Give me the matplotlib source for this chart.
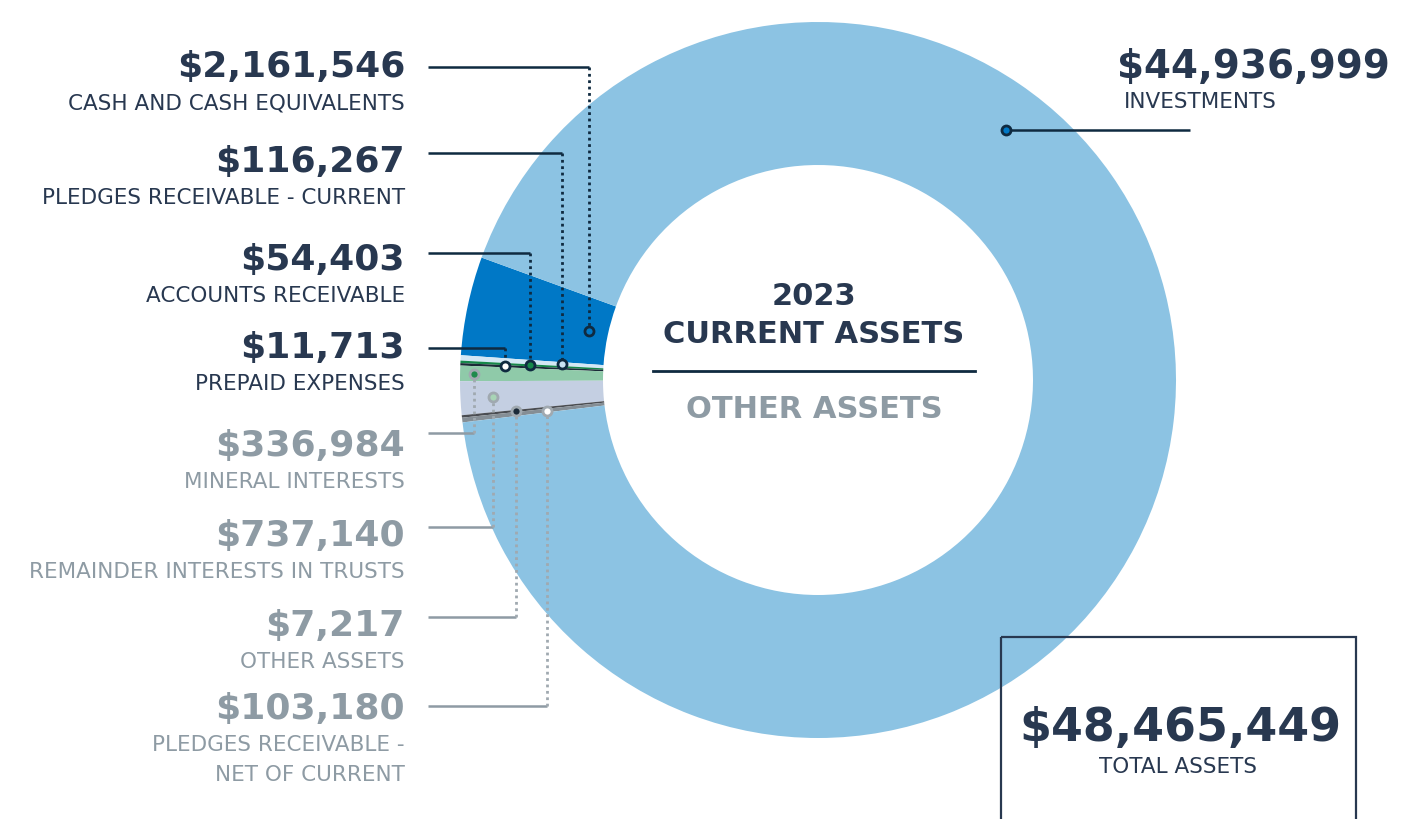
import numpy as np
import matplotlib.pyplot as plt
from matplotlib.patches import Rectangle

# slices in drawing order, counter-clockwise from upper left
names = ['CASH AND CASH EQUIVALENTS', 'PLEDGES RECEIVABLE - CURRENT',
         'ACCOUNTS RECEIVABLE', 'PREPAID EXPENSES', 'MINERAL INTERESTS',
         'REMAINDER INTERESTS IN TRUSTS', 'OTHER ASSETS',
         'PLEDGES RECEIVABLE -\nNET OF CURRENT', 'INVESTMENTS']
values = np.array([2161546, 116267, 54403, 11713, 336984, 737140, 7217,
                   103180, 44936999])
value_labels = ['$2,161,546', '$116,267', '$54,403', '$11,713', '$336,984',
                '$737,140', '$7,217', '$103,180', '$44,936,999']
is_current = [True, True, True, True, False, False, False, False, True]
total_label = '$48,465,449'

colors = ['#0078c6', '#d4e8f5', '#16884a', '#1b2a38', '#8fcaa9', '#c4cfe2',
          '#4a4d52', '#858e95', '#8cc3e3']
dot_faces = ['#0078c6', '#c9e2f3', '#16884a', '#ffffff', '#1f8a4c', '#a8d4b6',
             '#1b2a38', '#ffffff', '#0078c6']

NAVY = '#283850'
LINE_NAVY = '#0f2a40'
GREY = '#8e9ba4'
DOT_GREY = '#a0a9b0'
BOLD = dict(family='DejaVu Sans', fontweight='bold')
THIN = dict(family='DejaVu Sans', fontsize=15.5)

fig = plt.figure(figsize=(14.07, 8.19), dpi=100)
ax = fig.add_axes([0, 0, 1, 1])

cx, cy, R, W = 818, 380, 358, 143
# tiny slices get a minimum share so they stay visible
disp = np.maximum(values, values.sum() * 0.0011)
wedges, _ = ax.pie(disp, colors=colors, startangle=200, counterclock=False,
                   radius=R, center=(cx, cy),
                   wedgeprops=dict(width=W, edgecolor='none'))
ax.set_xlim(0, 1407)
ax.set_ylim(819, 0)
ax.set_aspect('equal')
ax.axis('off')

# leader lines for the left-hand labels
dot_r = [234, 256, 288, 313, 344, 325, 304, 273]
label_y = [77, 172, 270, 358, 456, 546, 636, 719]
line_y = [67, 153, 253, 348, 433, 527, 617, 706]
for i in range(8):
    w = wedges[i]
    th = np.deg2rad((w.theta1 + w.theta2) / 2)
    x = cx + dot_r[i] * np.cos(th)
    y = cy + dot_r[i] * np.sin(th)
    lc = LINE_NAVY if is_current[i] else GREY
    dc = LINE_NAVY if is_current[i] else DOT_GREY
    ax.plot([428, x], [line_y[i], line_y[i]], color=lc, lw=1.8,
            solid_capstyle='butt')
    ax.plot([x, x], [line_y[i], y], color=dc, lw=2, ls=(0, (1, 1.3)))
    ax.plot(x, y, 'o', ms=6.5, mfc=dot_faces[i], mec=dc, mew=2)
    tc = NAVY if is_current[i] else GREY
    ax.text(405, label_y[i], value_labels[i], ha='right', va='baseline',
            fontsize=26, color=tc, **BOLD)
    for k, part in enumerate(names[i].split('\n')):
        ax.text(405, label_y[i] + 32 + 30 * k, part, ha='right',
                va='baseline', color=tc, **THIN)

# investments label on the right
th = np.deg2rad(-53)
x = cx + 313 * np.cos(th)
y = cy + 313 * np.sin(th)
ax.plot([x, 1190], [y, y], color=LINE_NAVY, lw=1.8, solid_capstyle='butt')
ax.plot(x, y, 'o', ms=6.5, mfc=dot_faces[8], mec=LINE_NAVY, mew=2)
ax.text(1117, 78, value_labels[8], ha='left', va='baseline', fontsize=28,
        color=NAVY, **BOLD)
ax.text(1124, 108, names[8], ha='left', va='baseline', color=NAVY, **THIN)

# centre text
ax.text(814, 305, '2023', ha='center', va='baseline', fontsize=22,
        color=NAVY, **BOLD)
ax.text(814, 343, 'CURRENT ASSETS', ha='center', va='baseline', fontsize=22,
        color=NAVY, **BOLD)
ax.plot([653, 975], [371, 371], color=LINE_NAVY, lw=2)
ax.text(814, 418, 'OTHER ASSETS', ha='center', va='baseline', fontsize=22,
        color=GREY, **BOLD)

# total box
ax.add_patch(Rectangle((1001, 637), 355, 200, fill=False, ec=NAVY, lw=1.6,
                       clip_on=True))
ax.text(1180, 741, total_label, ha='center', va='baseline', fontsize=33,
        color=NAVY, **BOLD)
ax.text(1178, 773, 'TOTAL ASSETS', ha='center', va='baseline', color=NAVY,
        **THIN)

fig.savefig('out.png', dpi=100)
